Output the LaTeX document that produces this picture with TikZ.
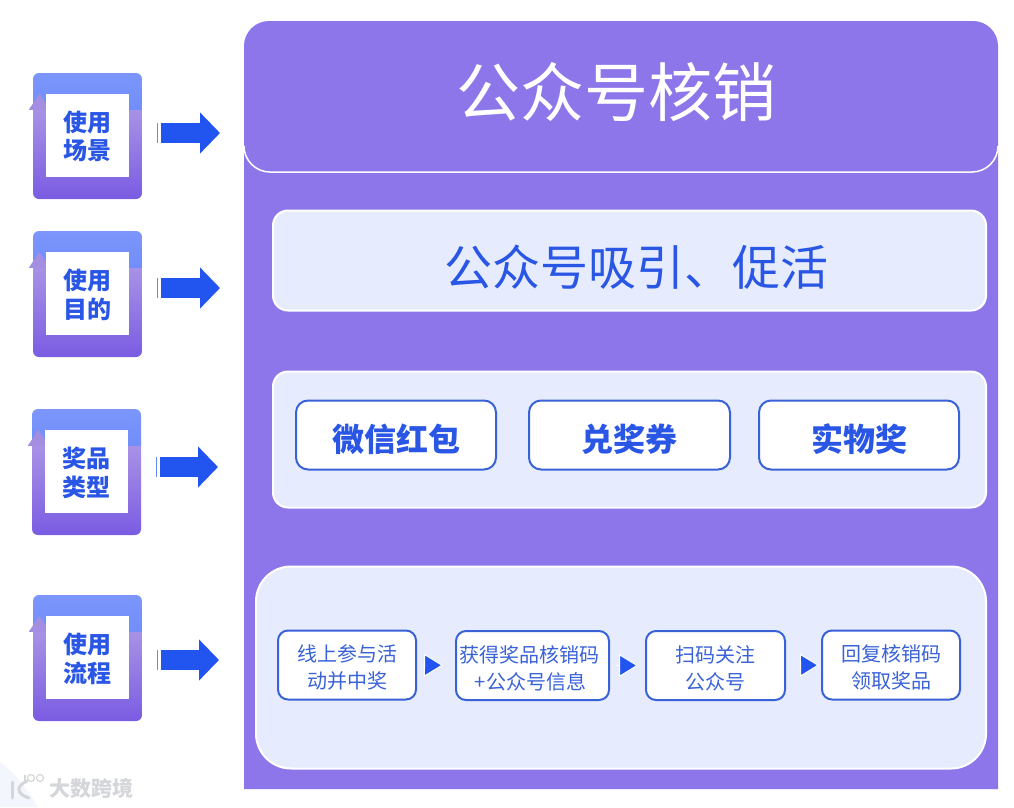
\documentclass[tikz,border=0pt]{standalone}
\usepackage{fontspec}
\setmainfont{Noto Sans CJK SC}
\usepackage{xcolor}
\usetikzlibrary{arrows.meta, positioning}
\definecolor{panelpurple}{HTML}{8C76EA}
\definecolor{softblue}{HTML}{E6ECFD}
\definecolor{textblue}{HTML}{2A56E6}
\definecolor{edgeblue}{HTML}{3A62D8}
\definecolor{arrowblue}{HTML}{2255F0}
\definecolor{cardtop}{HTML}{7C96FB}
\definecolor{cardmid}{HTML}{5579F6}
\definecolor{cardlow}{HTML}{A892E6}
\definecolor{cardend}{HTML}{7A5CE2}
\definecolor{cardhead}{HTML}{A48EE2}
\definecolor{markgray}{HTML}{D4D6DA}
\newcommand{\lowerlines}[2]{\raisebox{-#1}[\height][\depth]{\begin{tabular}{@{}c@{}}#2\end{tabular}}}

\begin{document}
\begin{tikzpicture}[
  x=1pt, y=-1pt,
  card/.style={rectangle, rounded corners=6pt, minimum width=109pt, minimum height=126pt,
    path picture={
      \shade[sharp corners, top color=cardtop, bottom color=cardmid]
        (path picture bounding box.north west) rectangle ([yshift=-37pt]path picture bounding box.north east);
      \shade[sharp corners, top color=cardlow, bottom color=cardend]
        ([yshift=-37pt]path picture bounding box.north west) rectangle (path picture bounding box.south east);
    }},
  cardtext/.style={rectangle, fill=white, minimum width=83pt, minimum height=83pt, inner sep=0pt,
    text=textblue, font=\fontsize{24}{28}\selectfont\bfseries},
  headmark/.style={fill=cardhead},
  bigarrow/.style={arrowblue, line width=20pt, shorten <=19pt,
    -{Triangle[length=20pt,width=40pt]}},
  softpanel/.style={rectangle, draw=white, line width=2pt, fill=softblue, rounded corners=15pt},
  prizebox/.style={rectangle, draw=edgeblue, line width=2pt, fill=white, rounded corners=12pt,
    minimum height=69pt, text height=32pt, text depth=0pt, text=textblue,
    font=\fontsize{32}{36}\selectfont\bfseries},
  stepbox/.style={rectangle, draw=edgeblue, line width=2pt, fill=white, rounded corners=10pt,
    minimum height=69pt, inner sep=0pt, text=edgeblue, font=\fontsize{20}{27}\selectfont},
  steparrow/.style={white, line width=0.4pt,
    -{Triangle[length=19pt,width=23pt,fill=arrowblue,color=white,line width=1pt]}}
]

\useasboundingbox (0,0) rectangle (1014,807);

% watermark
\fill[softblue!45] (0,762) .. controls (14,772) and (28,790) .. (38,807) -- (0,807) -- cycle;
\draw[markgray, line width=3pt, line cap=round] (12,782) -- (12,798);
\draw[markgray, line width=3pt, line cap=round] (27,781) .. controls (16,786) and (16,794) .. (29,798);
\draw[markgray, line width=1.2pt] (25,775) -- (25,781);
\draw[markgray, line width=1.2pt] (31,778) circle (3.5);
\draw[markgray, line width=1.2pt] (40,778) circle (3.5);
\node[text=markgray, font=\fontsize{21}{21}\selectfont\bfseries, inner sep=0pt] (mark) at (91,788) {大数跨境};

% main panel
\fill[panelpurple] (244,789) {[rounded corners=25pt] -- (244,21) -- (998,21)} -- (998,789) -- cycle;
\draw[white, line width=1.5pt, rounded corners=26pt] (244,146) -- (244,172) -- (998,172) -- (998,146);
\node[text=white, font=\fontsize{64}{70}\selectfont, inner sep=0pt] (title) at (616,92) {公众号核销};

% rows
\node[softpanel, minimum width=713pt, minimum height=100pt] (goal) at (629.5,260.5) {};
\node[text=textblue, font=\fontsize{48}{52}\selectfont, inner sep=0pt] (goaltext) at (636,267) {公众号吸引、促活};

\node[softpanel, minimum width=713pt, minimum height=136pt] (prize) at (629.5,439.5) {};
\node[prizebox, minimum width=200pt] (p1) at (396,435) {微信红包};
\node[prizebox, minimum width=201pt, right=31pt of p1] (p2) {兑奖券};
\node[prizebox, minimum width=200pt, right=27pt of p2] (p3) {实物奖};

\node[softpanel, rounded corners=35pt, minimum width=730pt, minimum height=202pt] (flow) at (621,667.5) {};
\node[stepbox, minimum width=138pt] (s1) at (347,665) {\lowerlines{5pt}{线上参与活\\动并中奖}};
\node[stepbox, minimum width=153pt] (s2) at (532.5,665.5) {\lowerlines{5pt}{获得奖品核销码\hspace*{6pt}\\+公众号信息\hspace*{4pt}}};
\node[stepbox, minimum width=139pt] (s3) at (715.5,665.5) {\lowerlines{5pt}{扫码关注\\公众号}};
\node[stepbox, minimum width=138pt] (s4) at (891,665) {\lowerlines{5pt}{回复核销码\\领取奖品}};

\draw[steparrow, shorten <=7pt, shorten >=12pt] (s1) -- (s2);
\draw[steparrow, shorten <=6pt, shorten >=7pt] (s2) -- (s3);
\draw[steparrow, shorten <=12pt, shorten >=2pt] (s3) -- (s4);

% left cards
\node[card] (c1) at (87.5,136) {};
\fill[headmark] ([shift={(-4,37)}]c1.north west) -- ++(21,0) -- ++(-10.5,-16) -- cycle;
\node[cardtext] (t1) at (87.5,135.5) {\lowerlines{4pt}{使用\\场景}};

\node[card] (c2) at (87.5,294) {};
\fill[headmark] ([shift={(-4,37)}]c2.north west) -- ++(21,0) -- ++(-10.5,-16) -- cycle;
\node[cardtext] (t2) at (87.5,293.5) {\lowerlines{4pt}{使用\\目的}};

\node[card] (c3) at (86.5,472) {};
\fill[headmark] ([shift={(-4,37)}]c3.north west) -- ++(21,0) -- ++(-10.5,-16) -- cycle;
\node[cardtext] (t3) at (86.5,471.5) {\lowerlines{4pt}{奖品\\类型}};

\node[card] (c4) at (87.5,658) {};
\fill[headmark] ([shift={(-4,37)}]c4.north west) -- ++(21,0) -- ++(-10.5,-16) -- cycle;
\node[cardtext] (t4) at (87.5,657.5) {\lowerlines{4pt}{使用\\流程}};

\coordinate (a1) at (220,133);
\coordinate (a2) at (220,288);
\coordinate (a3) at (218,467);
\coordinate (a4) at (219,660);
\draw[bigarrow] (c1.east |- a1) -- (a1);
\draw[bigarrow] (c2.east |- a2) -- (a2);
\draw[bigarrow] (c3.east |- a3) -- (a3);
\draw[bigarrow] (c4.east |- a4) -- (a4);

% thin ticks in front of the arrows
\draw[arrowblue!70, line width=1pt] ([shift={(15,-10)}]c1.east |- a1) -- ++(0,20);
\draw[arrowblue!70, line width=1pt] ([shift={(15,-10)}]c2.east |- a2) -- ++(0,20);
\draw[arrowblue!70, line width=1pt] ([shift={(15,-10)}]c3.east |- a3) -- ++(0,20);
\draw[arrowblue!70, line width=1pt] ([shift={(15,-10)}]c4.east |- a4) -- ++(0,20);

\end{tikzpicture}
\end{document}
